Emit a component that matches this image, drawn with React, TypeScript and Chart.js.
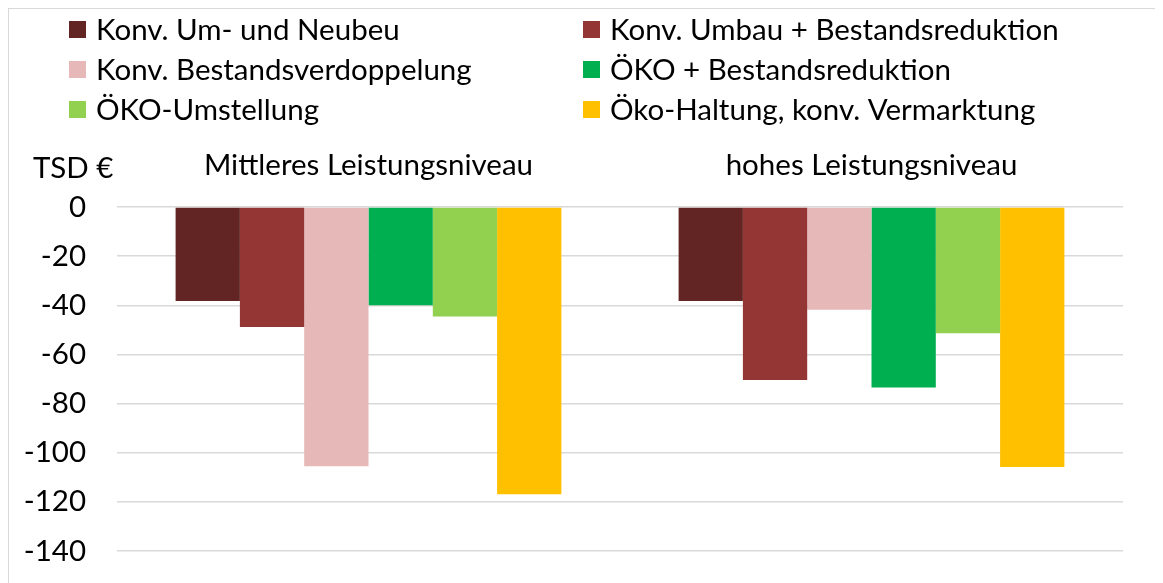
import React, { useEffect, useRef } from "react";
import { Chart, registerables } from "chart.js";

Chart.register(...registerables);

const categories = ["Mittleres Leistungsniveau", "hohes Leistungsniveau"];

const seriesNames = [
  "Konv. Um- und Neubeu",
  "Konv. Umbau + Bestandsreduktion",
  "Konv. Bestandsverdoppelung",
  "ÖKO + Bestandsreduktion",
  "ÖKO-Umstellung",
  "Öko-Haltung, konv. Vermarktung",
];

const seriesColors = ["#632523", "#943634", "#E6B8B7", "#00B050", "#92D050", "#FFC000"];

const konvUmNeubau = [-38.3, -38.3];
const konvUmbauReduktion = [-48.8, -70.4];
const konvVerdoppelung = [-105.5, -41.8];
const oekoReduktion = [-40.0, -73.5];
const oekoUmstellung = [-44.6, -51.4];
const oekoHaltung = [-116.9, -105.8];

const seriesValues = [
  konvUmNeubau,
  konvUmbauReduktion,
  konvVerdoppelung,
  oekoReduktion,
  oekoUmstellung,
  oekoHaltung,
];

const yMin = -140;
const yMax = 0;
const yStep = 20;
const yUnit = "TSD €";

const FONT_FAMILY = "Lato, 'Open Sans', sans-serif";
const FONT_SIZE = 29.5;

const legendPlugin = {
  id: "gridLegend",
  afterDraw(chart: any) {
    const ctx = chart.ctx as CanvasRenderingContext2D;
    ctx.save();
    ctx.font = `${FONT_SIZE}px ${FONT_FAMILY}`;
    ctx.textBaseline = "middle";
    ctx.textAlign = "left";
    chart.data.datasets.forEach((ds: any, i: number) => {
      const col = i % 2;
      const row = Math.floor(i / 2);
      const bx = col === 0 ? 60 : 574;
      const cy = 20.5 + row * 40;
      ctx.fillStyle = ds.backgroundColor;
      ctx.fillRect(bx, cy - 8.5, 17, 17);
      ctx.fillStyle = "#000";
      ctx.fillText(ds.label, bx + 27, cy + 1);
    });
    ctx.textBaseline = "alphabetic";
    ctx.fillText(yUnit, 24, 169);
    ctx.restore();
  },
};

export default function App() {
  const ref = useRef<HTMLCanvasElement | null>(null);

  useEffect(() => {
    if (!ref.current) return;
    const font = { family: FONT_FAMILY, size: FONT_SIZE };
    const chart = new Chart(ref.current, {
      type: "bar",
      data: {
        labels: categories,
        datasets: seriesNames.map((name, i) => ({
          label: name,
          data: seriesValues[i],
          backgroundColor: seriesColors[i],
          borderWidth: 0,
          barPercentage: 1,
          categoryPercentage: 0.767,
        })),
      },
      options: {
        animation: false,
        responsive: false,
        layout: { padding: { top: 120, right: 40, bottom: 32, left: 0 } },
        plugins: {
          legend: { display: false },
          tooltip: { enabled: false },
        },
        scales: {
          x: {
            position: "top",
            grid: { display: false },
            border: { display: false },
            ticks: { font, color: "#000", padding: 16, maxRotation: 0, autoSkip: false },
            afterFit: (s: any) => {
              s.height = 78;
            },
          },
          y: {
            min: yMin,
            max: yMax,
            ticks: { stepSize: yStep, font, color: "#000", padding: 0 },
            grid: {
              color: "#d9d9d9",
              lineWidth: 1.5,
              drawTicks: true,
              tickLength: 31,
              tickColor: "rgba(0,0,0,0)",
            },
            border: { display: false },
            afterFit: (s: any) => {
              s.width = 108;
            },
          },
        },
      },
      plugins: [legendPlugin],
    });
    return () => chart.destroy();
  }, []);

  return (
    <div
      style={{
        width: 1155,
        height: 575,
        borderTop: "1px solid #d9d9d9",
        borderLeft: "1px solid #d9d9d9",
        boxSizing: "border-box",
        background: "#fff",
      }}
    >
      <canvas ref={ref} width={1154} height={574} style={{ display: "block" }} />
    </div>
  );
}
